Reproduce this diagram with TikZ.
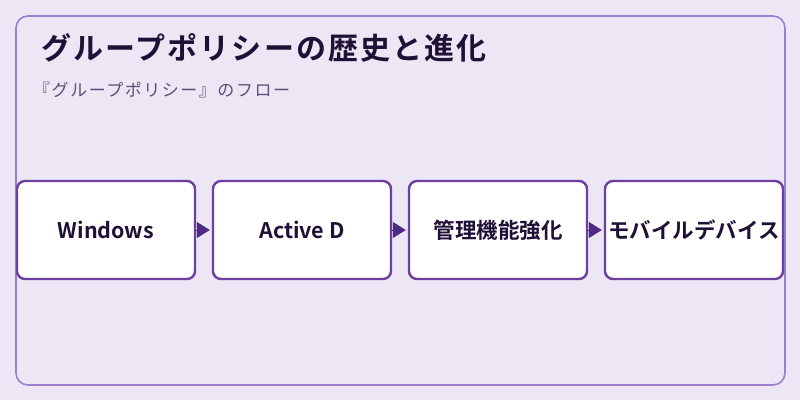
\documentclass[tikz,border=0pt]{standalone}
\usepackage{fontspec}
\setmainfont{Noto Sans CJK JP}
\newfontfamily\jpbold{Noto Sans CJK JP Bold}
\newfontfamily\jptitle[LetterSpace=7]{Noto Sans CJK JP Bold}
\newfontfamily\jpsub[LetterSpace=9]{Noto Sans CJK JP}
\usetikzlibrary{arrows.meta}
\definecolor{bgc}{HTML}{EDE6F5}
\definecolor{outerc}{HTML}{9C80CF}
\definecolor{boxc}{HTML}{6B40A0}
\definecolor{arrc}{HTML}{4E2A84}
\definecolor{titc}{HTML}{1F1035}
\definecolor{subc}{HTML}{5E4F78}
\tikzset{
  stepbox/.style={draw=boxc, line width=2.4pt, fill=white, rounded corners=8pt,
    minimum width=178pt, minimum height=98pt, inner sep=0pt,
    font=\jpbold\fontsize{21.5}{25}\selectfont, text=titc},
  flow/.style={draw=arrc, line width=1pt, -{Triangle[length=13pt,width=16pt]}, arrc}
}
\begin{document}
\begin{tikzpicture}[x=1pt,y=-1pt]
\fill[bgc] (0,0) rectangle (800,400);
\useasboundingbox (0,0) rectangle (800,400);
\draw[outerc, line width=1.6pt, rounded corners=12pt] (16,16) rectangle (785,385);
\node[anchor=base west, inner sep=0pt, text=titc, font=\jptitle\fontsize{30}{34}\selectfont] (title) at (41,59) {グループポリシーの歴史と進化};
\node[anchor=base west, inner sep=0pt, text=subc, font=\jpsub\fontsize{17}{20}\selectfont] (sub) at (33,96) {『グループポリシー』のフロー};
\node[stepbox] (b1) at (106,230) {Windows};
\node[stepbox] (b2) at (302,230) {Active D};
\node[stepbox] (b3) at (498,230) {管理機能強化};
\node[stepbox] (b4) at (694,230) {モバイルデバイス};
\draw[flow, shorten >=2pt] (b1.east) -- (b2.west);
\draw[flow, shorten >=2pt] (b2.east) -- (b3.west);
\draw[flow, shorten >=2pt] (b3.east) -- (b4.west);
\end{tikzpicture}
\end{document}
